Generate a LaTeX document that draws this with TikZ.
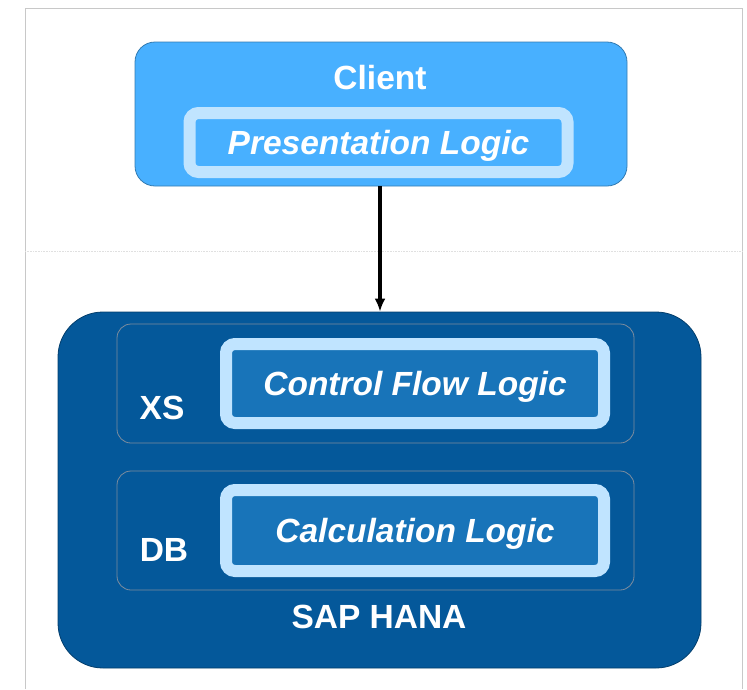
\documentclass[tikz,border=0pt]{standalone}
\usepackage{fontspec}
\setmainfont{Liberation Sans}
\usetikzlibrary{arrows.meta}
\definecolor{clientblue}{RGB}{72,176,255}
\definecolor{hanablue}{RGB}{4,88,154}
\definecolor{logicblue}{RGB}{24,116,185}
\definecolor{paleblue}{RGB}{192,228,255}
\definecolor{framegray}{RGB}{200,200,200}
\definecolor{layergray}{RGB}{125,140,158}
\newcommand{\labelfont}{\fontsize{33.5}{38}\selectfont\bfseries}
\tikzset{
    common/.style={rectangle, inner sep=0pt, text=white, font=\labelfont},
    tier/.style={common, draw=#1!70!black, line width=0.8pt, rounded corners=20pt},
    logic/.style={common, draw=paleblue, line width=12pt, rounded corners=9pt,
        minimum width=378pt, text height=26pt, text depth=2pt, font=\labelfont\itshape},
    layer/.style={common, draw=layergray, line width=0.8pt, fill=hanablue,
        rounded corners=14pt, minimum width=517pt, minimum height=119pt},
    caption/.style={common}
}

\begin{document}
\begin{tikzpicture}[x=1pt, y=-1pt]
    \useasboundingbox (0,0) rectangle (747,689);

    % page frame
    \draw[framegray, line width=1pt] (25,689) -- (25,8) -- (742,8) -- (742,689);
    \draw[black!12, densely dotted, line width=0.6pt] (25,251) -- (742,251);

    % client side
    \node[tier=clientblue, fill=clientblue, minimum width=492pt, minimum height=144pt] (client) at (381,114) {};
    \node[caption] (client-text) at (380,78) {Client};
    \node[logic, fill=clientblue, minimum height=59pt] (present) at (378.5,142.5) {Presentation Logic};

    % server side
    \node[tier=hanablue, fill=hanablue, rounded corners=45pt, minimum width=643pt, minimum height=356pt] (hana) at (379.5,490) {};
    \node[layer] (xs) at (375.5,383.5) {};
    \node[layer] (db) at (375.5,530.5) {};
    \node[logic, fill=logicblue, minimum height=79pt] (ctrlflow) at (415,383.5) {Control Flow Logic};
    \node[logic, fill=logicblue, minimum height=81pt] (calc) at (415,530.5) {Calculation Logic};
    \node[caption] (xs-text) at (162,408) {XS};
    \node[caption] (db-text) at (164,550) {DB};
    \node[caption] (hana-text) at (379,617) {SAP HANA};

    \draw[-{Latex[length=13pt, width=11pt]}, line width=3.2pt] (client.south -| 380,0) -- (hana.north -| 380,0);
\end{tikzpicture}
\end{document}
